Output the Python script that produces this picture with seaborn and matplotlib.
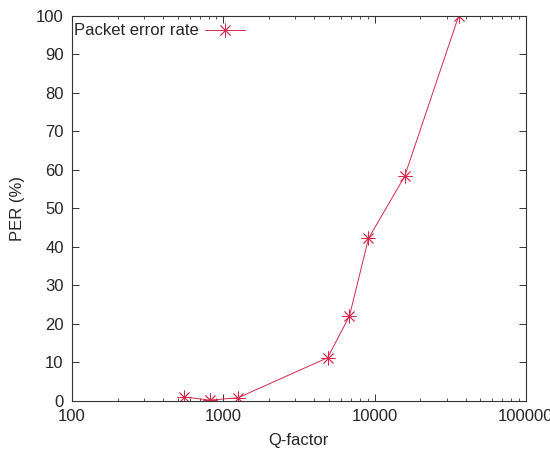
import matplotlib
matplotlib.use("Agg")
import matplotlib.pyplot as plt
import seaborn as sns
import pandas as pd
from matplotlib.ticker import FixedLocator, FixedFormatter, LogLocator, NullFormatter

q_factor = [550, 817, 1250, 4890, 6820, 9120, 15800, 36000]
per = [1.0, 0.2, 0.8, 11.2, 22.0, 42.2, 58.3, 100.0]
series_name = "Packet error rate"
x_ticks = [100, 1000, 10000, 100000]
x_tick_labels = ["100", "1000", "10000", "100000"]
y_ticks = [0, 10, 20, 30, 40, 50, 60, 70, 80, 90, 100]

sns.set_style("ticks")
plt.rcParams['font.family'] = ['Liberation Sans', 'DejaVu Sans']

color = "#d62a4a"
df = pd.DataFrame({"Q-factor": q_factor, "PER": per, "series": series_name})

fig = plt.figure(figsize=(5.5, 4.54), dpi=100)
ax = fig.add_axes([0.131, 0.117, 0.825, 0.848])

sns.lineplot(data=df, x="Q-factor", y="PER", hue="series", palette=[color],
             marker=(8, 2, 0), markersize=10, markeredgewidth=0.6,
             markeredgecolor=color, markerfacecolor=color, linewidth=0.7,
             ax=ax, sort=False)

ax.set_xscale("log")
ax.set_xlim(100, 100000)
ax.set_ylim(0, 100)
ax.xaxis.set_major_locator(FixedLocator(x_ticks))
ax.xaxis.set_major_formatter(FixedFormatter(x_tick_labels))
ax.xaxis.set_minor_locator(LogLocator(base=10, subs=range(2, 10)))
ax.xaxis.set_minor_formatter(NullFormatter())
ax.set_yticks(y_ticks)

ax.tick_params(axis="both", which="both", direction="in", top=True, right=True,
               labelsize=12, pad=6, color="#333333")
ax.tick_params(axis="both", which="major", length=5, width=0.7)
ax.tick_params(axis="both", which="minor", length=2.5, width=0.6)
for s in ax.spines.values():
    s.set_linewidth(0.8)
    s.set_color("#333333")

ax.set_xlabel("Q-factor", fontsize=12, labelpad=6)
ax.set_ylabel("PER (%)", fontsize=12, labelpad=8)

leg = ax.legend(loc="upper left", bbox_to_anchor=(-0.013, 1.0), frameon=False,
                markerfirst=False, fontsize=12, handlelength=2.4,
                borderaxespad=0.0, borderpad=0.45, handletextpad=0.4)
for h in leg.legend_handles:
    h.set_markeredgecolor(color)
    h.set_markerfacecolor(color)
leg.set_title(None)

fig.savefig("out.png", dpi=100)
